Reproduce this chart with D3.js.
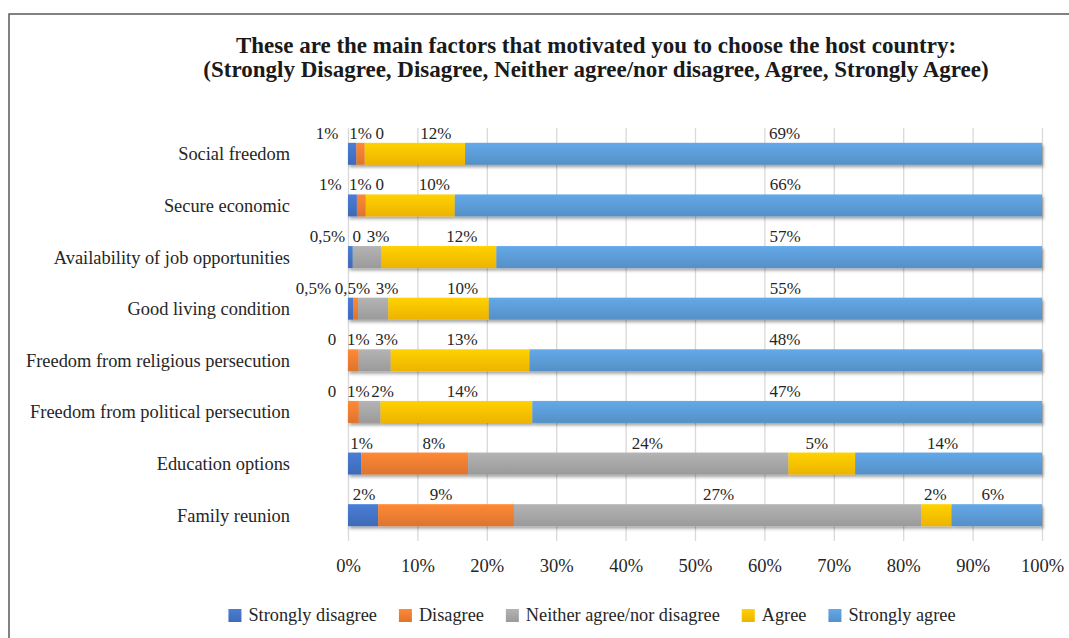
<!DOCTYPE html>
<html>
<head>
<meta charset="utf-8">
<script src="https://cdn.jsdelivr.net/npm/d3@7"></script>
<style>
  html, body { margin: 0; padding: 0; background: #fff; }
  svg { display: block; }
  text { font-family: "Liberation Serif", "Times New Roman", serif; fill: #262626; }
</style>
</head>
<body>
<svg id="chart" width="1069" height="638"></svg>
<script>
// ---- Data ----
const categories = [
  "Social freedom",
  "Secure economic",
  "Availability of job opportunities",
  "Good living condition",
  "Freedom from religious persecution",
  "Freedom from political persecution",
  "Education options",
  "Family reunion"
];
const seriesNames = ["Strongly disagree", "Disagree", "Neither agree/nor disagree", "Agree", "Strongly agree"];
const stronglyDisagree = [1, 1, 0.5, 0.5, 0, 0, 1, 2];
const disagree         = [1, 1, 0, 0.5, 1, 1, 8, 9];
const neither          = [0, 0, 3, 3, 3, 2, 24, 27];
const agree            = [12, 10, 12, 10, 13, 14, 5, 2];
const stronglyAgree    = [69, 66, 57, 55, 48, 47, 14, 6];
const xTickValues = [0, 0.1, 0.2, 0.3, 0.4, 0.5, 0.6, 0.7, 0.8, 0.9, 1.0];
const titleLines = [
  "These are the main factors that motivated you to choose the host country:",
  "(Strongly Disagree, Disagree, Neither agree/nor disagree, Agree, Strongly Agree)"
];

// ---- Layout / style ----
const colors = ["#4472C4", "#ED7D31", "#A5A5A5", "#FFC000", "#5B9BD5"];
// horizontal nudges (px) of the data labels relative to their segment centre, as placed in the original
const labelNudge = [
  [-25, 0, 15, 21, 31],
  [-22, -1, 14, 24, 37],
  [-23, 4, 11, 23, 16],
  [-37, -3, 14, 24, 20],
  [-16, 5, 12, 2, -1],
  [-16, 5, 13, 6, -2],
  [7, 19, 19, -5, -6],
  [1, -5, 1, -1, -4]
];
const plot = { left: 348, right: 1042, top: 128, bottom: 541 };
const labelSize = 17, catSize = 18.4, tickSize = 18.5, legendSize = 18.3, titleSize = 23;

const svg = d3.select("#chart");
const defs = svg.append("defs");

colors.forEach((c, i) => {
  const g = defs.append("linearGradient").attr("id", "grad" + i)
    .attr("x1", 0).attr("y1", 0).attr("x2", 0).attr("y2", 1);
  g.append("stop").attr("offset", "0%").attr("stop-color", d3.color(c).brighter(0.25));
  g.append("stop").attr("offset", "100%").attr("stop-color", d3.color(c).darker(0.2));
});
const f = defs.append("filter").attr("id", "shadow")
  .attr("x", "-5%").attr("y", "-20%").attr("width", "110%").attr("height", "160%");
f.append("feDropShadow").attr("dx", 1.5).attr("dy", 2.5).attr("stdDeviation", 1.6)
  .attr("flood-color", "#000").attr("flood-opacity", 0.35);

// frame
svg.append("rect").attr("x", 9).attr("y", 14).attr("width", 1100).attr("height", 700)
  .attr("fill", "none").attr("stroke", "#595959").attr("stroke-width", 1.5);

// title
svg.append("g").selectAll("text").data(titleLines).join("text")
  .attr("x", 596).attr("y", (d, i) => 53 + i * 24)
  .attr("text-anchor", "middle")
  .style("font-weight", "bold").style("font-size", titleSize + "px").style("fill", "#1a1a1a")
  .text(d => d);

// data table
const table = categories.map((c, i) => ({
  category: c,
  "Strongly disagree": stronglyDisagree[i],
  "Disagree": disagree[i],
  "Neither agree/nor disagree": neither[i],
  "Agree": agree[i],
  "Strongly agree": stronglyAgree[i]
}));
const stacked = d3.stack().keys(seriesNames).offset(d3.stackOffsetExpand)(table);

const x = d3.scaleLinear().domain([0, 1]).range([plot.left, plot.right]);
const y = d3.scaleBand().domain(categories).range([plot.top, plot.bottom])
  .paddingInner(0.574).paddingOuter(0.287);

// gridlines
const grid = svg.append("g").attr("transform", `translate(0,${plot.bottom})`)
  .call(d3.axisBottom(x).tickValues(xTickValues).tickSize(-(plot.bottom - plot.top)).tickFormat(""));
grid.select(".domain").remove();
grid.selectAll("line").attr("stroke", "#d9d9d9").attr("stroke-width", 1.3);

// x axis labels
const xAxis = svg.append("g").attr("transform", `translate(0,${plot.bottom})`)
  .call(d3.axisBottom(x).tickValues(xTickValues).tickSize(0).tickPadding(18).tickFormat(d3.format(".0%")));
xAxis.select(".domain").remove();
xAxis.selectAll("text").style("font-size", tickSize + "px").style("font-family", "'Liberation Serif', serif").attr("fill", "#262626");

// y axis labels
const yAxis = svg.append("g").attr("transform", `translate(290,0)`)
  .call(d3.axisLeft(y).tickSize(0).tickPadding(0));
yAxis.select(".domain").remove();
yAxis.selectAll("text").style("font-size", catSize + "px").style("font-family", "'Liberation Serif', serif")
  .attr("fill", "#262626").attr("dy", "0.35em").attr("y", 0);

// bars
const barG = svg.append("g").attr("filter", "url(#shadow)");
stacked.forEach((s, si) => {
  barG.append("g").selectAll("rect").data(s).join("rect")
    .attr("x", d => x(d[0]))
    .attr("y", d => y(d.data.category))
    .attr("width", d => Math.max(0, x(d[1]) - x(d[0])))
    .attr("height", y.bandwidth())
    .attr("fill", `url(#grad${si})`);
});

// data labels
const fmt = v => v === 0 ? "0" : (String(v).replace(".", ",") + "%");
const labG = svg.append("g");
stacked.forEach((s, si) => {
  labG.append("g").selectAll("text").data(s).join("text")
    .attr("x", (d, i) => (x(d[0]) + x(d[1])) / 2 + labelNudge[i][si])
    .attr("y", d => y(d.data.category) - 4)
    .attr("text-anchor", "middle")
    .style("font-size", labelSize + "px")
    .text(d => fmt(d.data[s.key]));
});

// legend
const legTextOffset = 20, legGap = 22;
const legend = svg.append("g");
const items = legend.selectAll("g").data(seriesNames).join("g");
items.append("rect").attr("width", 13).attr("height", 13).attr("y", 609)
  .attr("fill", (d, i) => `url(#grad${i})`);
items.append("text").attr("x", legTextOffset).attr("y", 621).style("font-size", legendSize + "px").text(d => d);
const widths = [];
items.each(function () { widths.push(d3.select(this).select("text").node().getComputedTextLength()); });
const total = widths.reduce((a, w) => a + legTextOffset + w, 0) + legGap * (widths.length - 1);
let cx = 592 - total / 2;
items.each(function (d, i) {
  d3.select(this).attr("transform", `translate(${cx},0)`);
  cx += legTextOffset + widths[i] + legGap;
});
</script>
</body>
</html>
